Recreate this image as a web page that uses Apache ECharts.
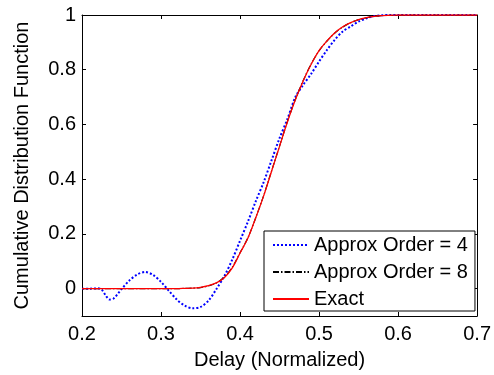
<!DOCTYPE html>
<html>
<head>
<meta charset="utf-8">
<script src="https://cdn.jsdelivr.net/npm/echarts@6/dist/echarts.min.js"></script>
<style>html,body{margin:0;padding:0;background:#fff}#c{width:494px;height:375px}</style>
</head>
<body>
<div id="c"></div>
<script>
var xs = [0.2,0.21,0.22,0.225,0.23,0.235,0.24,0.245,0.25,0.26,0.27,0.28,0.29,0.30,0.31,0.32,0.33,0.34,0.35,0.36,0.37,0.38,0.39,0.40,0.41,0.42,0.43,0.44,0.45,0.46,0.47,0.48,0.49,0.50,0.51,0.52,0.53,0.54,0.55,0.56,0.57,0.58,0.59,0.60,0.65,0.70];
var approx4 = [0,0,0.001,-0.004,-0.025,-0.04,-0.036,-0.02,-0.002,0.03,0.052,0.061,0.05,0.025,-0.008,-0.04,-0.062,-0.072,-0.067,-0.044,-0.002,0.045,0.105,0.175,0.245,0.32,0.39,0.47,0.55,0.62,0.70,0.745,0.785,0.83,0.872,0.91,0.94,0.958,0.976,0.988,0.996,0.999,1,1,1,1];
var approx8 = [0,0,0,0,0,0,0,0,0,0,0,0,0,0,0,0,0.001,0.002,0.004,0.01,0.021,0.042,0.077,0.131,0.186,0.26,0.341,0.431,0.521,0.611,0.691,0.761,0.821,0.869,0.905,0.934,0.956,0.972,0.983,0.99,0.995,0.998,0.999,1,1,1];
var exact = [0,0,0,0,0,0,0,0,0,0,0,0,0,0,0,0,0.001,0.002,0.005,0.011,0.021,0.04,0.075,0.13,0.185,0.26,0.34,0.43,0.52,0.61,0.69,0.76,0.82,0.87,0.905,0.935,0.957,0.972,0.983,0.99,0.995,0.998,0.999,1,1,1];
var yTicks = [0,0.2,0.4,0.6,0.8,1];
var yTickLabels = ['0','0.2','0.4','0.6','0.8','1'];
var names = ['Approx Order = 4','Approx Order = 8','Exact'];

function pairs(ys){ return xs.map(function(x,i){ return [x, ys[i]]; }); }
var FONT = '"Liberation Sans", Arial, Helvetica, sans-serif';
var chart = echarts.init(document.getElementById('c'), null, {renderer:'canvas'});
var tick = {show:true, inside:true, length:4, lineStyle:{color:'#000', width:1}};
var line = {show:true, onZero:false, lineStyle:{color:'#000', width:1}};
chart.setOption({
  animation:false,
  backgroundColor:'#fff',
  textStyle:{fontFamily:FONT},
  grid:{left:82, right:13, top:15, bottom:55, containLabel:false},
  legend:{
    orient:'vertical', left:264, top:231,
    padding:[4,7,2,8], itemGap:7, itemWidth:36, itemHeight:14,
    borderColor:'#000', borderWidth:1, backgroundColor:'#fff', borderRadius:0,
    itemStyle:{opacity:0},
    textStyle:{fontSize:20, color:'#000', fontFamily:FONT},
    data:names
  },
  xAxis:[{
    type:'value', min:0.2, max:0.7, interval:0.1, position:'bottom',
    name:'Delay (Normalized)', nameLocation:'middle', nameGap:34,
    nameTextStyle:{fontSize:20, color:'#000', fontFamily:FONT},
    axisLine:line, axisTick:tick, splitLine:{show:false},
    axisLabel:{fontSize:20, color:'#000', margin:8, fontFamily:FONT, formatter:function(v){return v.toFixed(1);}}
  },{
    type:'value', min:0.2, max:0.7, interval:0.1, position:'top',
    axisLine:line, axisTick:tick, splitLine:{show:false}, axisLabel:{show:false}
  }],
  yAxis:[{
    type:'value', min:-0.1, max:1, position:'left',
    name:'Cumulative Distribution Function', nameLocation:'middle', nameGap:50,
    nameTextStyle:{fontSize:20, color:'#000', fontFamily:FONT},
    axisLine:line,
    axisTick:{show:true, inside:true, length:4, lineStyle:{color:'#000'}, customValues:yTicks},
    axisLabel:{fontSize:20, color:'#000', margin:6, fontFamily:FONT, customValues:yTicks,
      formatter:function(v){ var i = yTicks.indexOf(Math.round(v*10)/10); return i>=0 ? yTickLabels[i] : ''; }},
    splitLine:{show:false}
  },{
    type:'value', min:-0.1, max:1, position:'right',
    axisLine:line,
    axisTick:{show:true, inside:true, length:4, lineStyle:{color:'#000'}, customValues:yTicks},
    axisLabel:{show:false}, splitLine:{show:false}
  }],
  series:[{
    name:names[0], type:'line', data:pairs(approx4), symbol:'none', smooth:0.3,
    xAxisIndex:0, yAxisIndex:0,
    lineStyle:{color:'#0000ff', width:2, type:[2,2]}, itemStyle:{color:'#0000ff'}
  },{
    name:names[1], type:'line', data:pairs(approx8), symbol:'none', smooth:0.3,
    xAxisIndex:0, yAxisIndex:0,
    lineStyle:{color:'#000', width:1.2, type:[6,2,1.5,2]}, itemStyle:{color:'#000'}
  },{
    name:names[2], type:'line', data:pairs(exact), symbol:'none', smooth:0.3,
    xAxisIndex:0, yAxisIndex:0,
    lineStyle:{color:'#ff0000', width:1.3, type:'solid'}, itemStyle:{color:'#ff0000'}
  }]
});
</script>
</body>
</html>
